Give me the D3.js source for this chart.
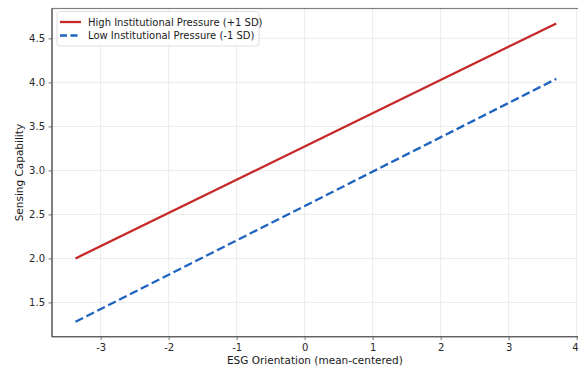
<!DOCTYPE html>
<html><head><meta charset="utf-8">
<script src="https://cdn.jsdelivr.net/npm/d3@7"></script>
<style>body{margin:0;background:#fff}svg{display:block;font-family:"DejaVu Sans",sans-serif}</style>
</head><body><svg id="c" width="578" height="367"></svg>
<script>
const xEnds = [-3.37, 3.70];
const highValues = [2.00, 4.67];
const lowValues = [1.28, 4.04];
const xTicks = [-3, -2, -1, 0, 1, 2, 3, 4];
const yTicks = [1.5, 2.0, 2.5, 3.0, 3.5, 4.0, 4.5];
const seriesNames = ["High Institutional Pressure (+1 SD)", "Low Institutional Pressure (-1 SD)"];

const svg = d3.select("#c");
const L = 52, T = 8.5, B = 336.7;
const x = d3.scaleLinear().domain([-3.7155, 4.0455]).range([L, L + (4.0455 + 3.7155) * 68]);
const y = d3.scaleLinear().domain([1.1105, 4.8395]).range([B, T]);
const R = x.range()[1];

// grid
const g = svg.append("g");
g.selectAll(".gx").data(xTicks).enter().append("line")
  .attr("x1", d => x(d)).attr("x2", d => x(d)).attr("y1", T).attr("y2", B)
  .attr("stroke", "#e6e6e6").attr("stroke-width", 0.8);
g.selectAll(".gy").data(yTicks).enter().append("line")
  .attr("y1", d => y(d)).attr("y2", d => y(d)).attr("x1", L).attr("x2", R)
  .attr("stroke", "#e6e6e6").attr("stroke-width", 0.8);

// lines
const line = d3.line().x(d => x(d[0])).y(d => y(d[1]));
svg.append("path").datum(xEnds.map((v, i) => [v, highValues[i]]))
  .attr("d", line).attr("fill", "none").attr("stroke", "#c62828").attr("stroke-width", 2.3);
svg.append("path").datum(xEnds.map((v, i) => [v, lowValues[i]]))
  .attr("d", line).attr("fill", "none").attr("stroke", "#1f63c0").attr("stroke-width", 2.3)
  .attr("stroke-dasharray", "8.5,3.7");

// spines
svg.append("rect").attr("x", L).attr("y", T).attr("width", R - L).attr("height", B - T)
  .attr("fill", "none").attr("stroke", "#808080").attr("stroke-width", 1.2);
svg.append("line").attr("x1", L).attr("x2", L).attr("y1", T).attr("y2", B).attr("stroke", "#555").attr("stroke-width", 1.1);
svg.append("line").attr("x1", L).attr("x2", R).attr("y1", B).attr("y2", B).attr("stroke", "#555").attr("stroke-width", 1.1);

// axes
const xa = svg.append("g").attr("transform", `translate(0,${B})`)
  .call(d3.axisBottom(x).tickValues(xTicks).tickFormat(d => String(d)).tickSize(3.5).tickPadding(3.5));
const ya = svg.append("g").attr("transform", `translate(${L},0)`)
  .call(d3.axisLeft(y).tickValues(yTicks).tickFormat(d => d.toFixed(1)).tickSize(3.5).tickPadding(3.5));
[xa, ya].forEach(a => {
  a.select(".domain").remove();
  a.selectAll("line").attr("stroke", "#555").attr("stroke-width", 0.8);
  a.selectAll("text").attr("fill", "#262626").attr("font-size", 10).attr("font-family", "DejaVu Sans");
});
// keep the last x tick label inside the canvas
xa.selectAll(".tick").filter(d => d === 4).select("text")
  .attr("text-anchor", "end").attr("dx", 0).attr("x", 578 - x(4));

svg.append("text").attr("x", (L + R) / 2 - 1).attr("y", 364).attr("text-anchor", "middle")
  .attr("font-size", 10.5).attr("fill", "#1a1a1a").text("ESG Orientation (mean-centered)");
svg.append("text").attr("transform", `translate(23,${(T + B) / 2}) rotate(-90)`).attr("text-anchor", "middle")
  .attr("font-size", 10.5).attr("fill", "#1a1a1a").text("Sensing Capability");

// legend
const lg = svg.append("g");
lg.append("rect").attr("x", 57).attr("y", 11.5).attr("width", 202).attr("height", 34.5).attr("rx", 2.5)
  .attr("fill", "#fff").attr("fill-opacity", 0.85).attr("stroke", "#d5d5d5").attr("stroke-width", 0.8);
const styles = [{c: "#c62828", d: null}, {c: "#1f63c0", d: "7,3.5"}];
seriesNames.forEach((n, i) => {
  const yy = 22 + i * 13.5;
  lg.append("line").attr("x1", 60).attr("x2", 81).attr("y1", yy).attr("y2", yy)
    .attr("stroke", styles[i].c).attr("stroke-width", 2.3).attr("stroke-dasharray", styles[i].d);
  lg.append("text").attr("x", 88).attr("y", yy + 3.5).attr("font-size", 10).attr("fill", "#1a1a1a").text(n);
});
</script></body></html>
